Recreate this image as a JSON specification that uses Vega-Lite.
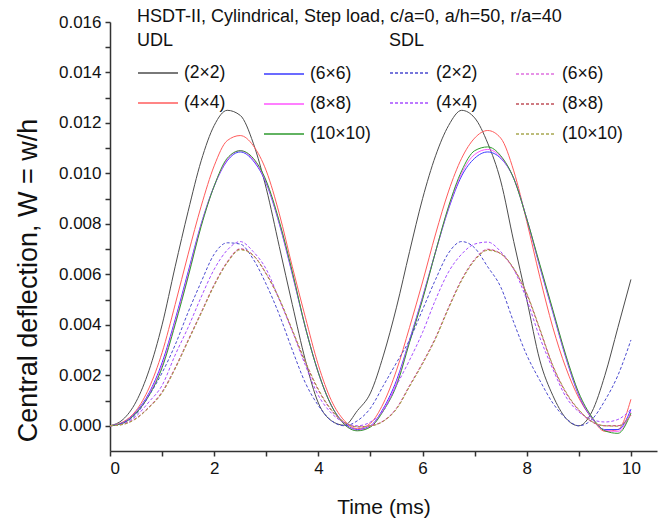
{
  "$schema": "https://vega.github.io/schema/vega-lite/v6.json",
  "width": 547,
  "height": 429,
  "autosize": {"type": "none"},
  "padding": {"left": 110, "top": 22, "right": 2, "bottom": 78},
  "background": "white",
  "title": {
    "text": "HSDT-II, Cylindrical, Step load, c/a=0, a/h=50, r/a=40",
    "anchor": "start",
    "frame": "group",
    "dx": 27,
    "dy": 17,
    "offset": -10,
    "baseline": "alphabetic",
    "font": "Liberation Sans",
    "fontSize": 18,
    "fontWeight": "normal",
    "color": "#111111"
  },
  "data": {
    "values": [
      {"s":"UDL","m":"(2×2)","t":0,"w":0},{"s":"UDL","m":"(2×2)","t":0.25,"w":0.00025},{"s":"UDL","m":"(2×2)","t":0.5,"w":0.00095},{"s":"UDL","m":"(2×2)","t":0.75,"w":0.0022},{"s":"UDL","m":"(2×2)","t":1,"w":0.004},{"s":"UDL","m":"(2×2)","t":1.25,"w":0.0063},{"s":"UDL","m":"(2×2)","t":1.5,"w":0.0085},{"s":"UDL","m":"(2×2)","t":1.75,"w":0.0105},{"s":"UDL","m":"(2×2)","t":2,"w":0.0119},{"s":"UDL","m":"(2×2)","t":2.25,"w":0.0125},{"s":"UDL","m":"(2×2)","t":2.5,"w":0.0123},{"s":"UDL","m":"(2×2)","t":2.75,"w":0.0112},{"s":"UDL","m":"(2×2)","t":3,"w":0.0094},{"s":"UDL","m":"(2×2)","t":3.25,"w":0.0071},{"s":"UDL","m":"(2×2)","t":3.5,"w":0.0048},{"s":"UDL","m":"(2×2)","t":3.75,"w":0.0026},{"s":"UDL","m":"(2×2)","t":4,"w":0.0009},{"s":"UDL","m":"(2×2)","t":4.25,"w":0.0002},{"s":"UDL","m":"(2×2)","t":4.5,"w":0.00002},{"s":"UDL","m":"(2×2)","t":4.75,"w":0.0006},{"s":"UDL","m":"(2×2)","t":5,"w":0.0013},{"s":"UDL","m":"(2×2)","t":5.25,"w":0.0028},{"s":"UDL","m":"(2×2)","t":5.5,"w":0.0047},{"s":"UDL","m":"(2×2)","t":5.75,"w":0.0069},{"s":"UDL","m":"(2×2)","t":6,"w":0.009},{"s":"UDL","m":"(2×2)","t":6.25,"w":0.0107},{"s":"UDL","m":"(2×2)","t":6.5,"w":0.0119},{"s":"UDL","m":"(2×2)","t":6.75,"w":0.0125},{"s":"UDL","m":"(2×2)","t":7,"w":0.0122},{"s":"UDL","m":"(2×2)","t":7.25,"w":0.0112},{"s":"UDL","m":"(2×2)","t":7.5,"w":0.0097},{"s":"UDL","m":"(2×2)","t":7.75,"w":0.0073},{"s":"UDL","m":"(2×2)","t":8,"w":0.005},{"s":"UDL","m":"(2×2)","t":8.25,"w":0.0026},{"s":"UDL","m":"(2×2)","t":8.5,"w":0.0012},{"s":"UDL","m":"(2×2)","t":8.75,"w":0.0003},{"s":"UDL","m":"(2×2)","t":9,"w":0},{"s":"UDL","m":"(2×2)","t":9.25,"w":0.00055},{"s":"UDL","m":"(2×2)","t":9.5,"w":0.002},{"s":"UDL","m":"(2×2)","t":9.75,"w":0.0039},{"s":"UDL","m":"(2×2)","t":10,"w":0.0058},
      {"s":"UDL","m":"(4×4)","t":0,"w":0},{"s":"UDL","m":"(4×4)","t":0.25,"w":0.00015},{"s":"UDL","m":"(4×4)","t":0.5,"w":0.0006},{"s":"UDL","m":"(4×4)","t":0.75,"w":0.0015},{"s":"UDL","m":"(4×4)","t":1,"w":0.0029},{"s":"UDL","m":"(4×4)","t":1.25,"w":0.0048},{"s":"UDL","m":"(4×4)","t":1.5,"w":0.0068},{"s":"UDL","m":"(4×4)","t":1.75,"w":0.0087},{"s":"UDL","m":"(4×4)","t":2,"w":0.0103},{"s":"UDL","m":"(4×4)","t":2.25,"w":0.0113},{"s":"UDL","m":"(4×4)","t":2.5,"w":0.0115},{"s":"UDL","m":"(4×4)","t":2.75,"w":0.0111},{"s":"UDL","m":"(4×4)","t":3,"w":0.0101},{"s":"UDL","m":"(4×4)","t":3.25,"w":0.0084},{"s":"UDL","m":"(4×4)","t":3.5,"w":0.0063},{"s":"UDL","m":"(4×4)","t":3.75,"w":0.0043},{"s":"UDL","m":"(4×4)","t":4,"w":0.0024},{"s":"UDL","m":"(4×4)","t":4.25,"w":0.001},{"s":"UDL","m":"(4×4)","t":4.5,"w":0.0002},{"s":"UDL","m":"(4×4)","t":4.75,"w":-0.00012},{"s":"UDL","m":"(4×4)","t":5,"w":0.0001},{"s":"UDL","m":"(4×4)","t":5.25,"w":0.0009},{"s":"UDL","m":"(4×4)","t":5.5,"w":0.0022},{"s":"UDL","m":"(4×4)","t":5.75,"w":0.0039},{"s":"UDL","m":"(4×4)","t":6,"w":0.0057},{"s":"UDL","m":"(4×4)","t":6.25,"w":0.0076},{"s":"UDL","m":"(4×4)","t":6.5,"w":0.0093},{"s":"UDL","m":"(4×4)","t":6.75,"w":0.0106},{"s":"UDL","m":"(4×4)","t":7,"w":0.0114},{"s":"UDL","m":"(4×4)","t":7.25,"w":0.0117},{"s":"UDL","m":"(4×4)","t":7.5,"w":0.0114},{"s":"UDL","m":"(4×4)","t":7.75,"w":0.0101},{"s":"UDL","m":"(4×4)","t":8,"w":0.0081},{"s":"UDL","m":"(4×4)","t":8.25,"w":0.0059},{"s":"UDL","m":"(4×4)","t":8.5,"w":0.0039},{"s":"UDL","m":"(4×4)","t":8.75,"w":0.0023},{"s":"UDL","m":"(4×4)","t":9,"w":0.0011},{"s":"UDL","m":"(4×4)","t":9.25,"w":0.0003},{"s":"UDL","m":"(4×4)","t":9.5,"w":-0.00022},{"s":"UDL","m":"(4×4)","t":9.75,"w":-0.00015},{"s":"UDL","m":"(4×4)","t":10,"w":0.00105},
      {"s":"UDL","m":"(6×6)","t":0,"w":0},{"s":"UDL","m":"(6×6)","t":0.25,"w":0.00012},{"s":"UDL","m":"(6×6)","t":0.5,"w":0.00055},{"s":"UDL","m":"(6×6)","t":0.75,"w":0.0013},{"s":"UDL","m":"(6×6)","t":1,"w":0.0025},{"s":"UDL","m":"(6×6)","t":1.25,"w":0.0042},{"s":"UDL","m":"(6×6)","t":1.5,"w":0.0061},{"s":"UDL","m":"(6×6)","t":1.75,"w":0.008},{"s":"UDL","m":"(6×6)","t":2,"w":0.0095},{"s":"UDL","m":"(6×6)","t":2.25,"w":0.0105},{"s":"UDL","m":"(6×6)","t":2.5,"w":0.01085},{"s":"UDL","m":"(6×6)","t":2.75,"w":0.0105},{"s":"UDL","m":"(6×6)","t":3,"w":0.0096},{"s":"UDL","m":"(6×6)","t":3.25,"w":0.008},{"s":"UDL","m":"(6×6)","t":3.5,"w":0.006},{"s":"UDL","m":"(6×6)","t":3.75,"w":0.0039},{"s":"UDL","m":"(6×6)","t":4,"w":0.0021},{"s":"UDL","m":"(6×6)","t":4.25,"w":0.0008},{"s":"UDL","m":"(6×6)","t":4.5,"w":0.0001},{"s":"UDL","m":"(6×6)","t":4.75,"w":-0.00015},{"s":"UDL","m":"(6×6)","t":5,"w":0},{"s":"UDL","m":"(6×6)","t":5.25,"w":0.0007},{"s":"UDL","m":"(6×6)","t":5.5,"w":0.0018},{"s":"UDL","m":"(6×6)","t":5.75,"w":0.0034},{"s":"UDL","m":"(6×6)","t":6,"w":0.0051},{"s":"UDL","m":"(6×6)","t":6.25,"w":0.0069},{"s":"UDL","m":"(6×6)","t":6.5,"w":0.0086},{"s":"UDL","m":"(6×6)","t":6.75,"w":0.0099},{"s":"UDL","m":"(6×6)","t":7,"w":0.0106},{"s":"UDL","m":"(6×6)","t":7.25,"w":0.01085},{"s":"UDL","m":"(6×6)","t":7.5,"w":0.0106},{"s":"UDL","m":"(6×6)","t":7.75,"w":0.0098},{"s":"UDL","m":"(6×6)","t":8,"w":0.0082},{"s":"UDL","m":"(6×6)","t":8.25,"w":0.0063},{"s":"UDL","m":"(6×6)","t":8.5,"w":0.0045},{"s":"UDL","m":"(6×6)","t":8.75,"w":0.0027},{"s":"UDL","m":"(6×6)","t":9,"w":0.0012},{"s":"UDL","m":"(6×6)","t":9.25,"w":0.0003},{"s":"UDL","m":"(6×6)","t":9.5,"w":-0.00015},{"s":"UDL","m":"(6×6)","t":9.75,"w":-0.00015},{"s":"UDL","m":"(6×6)","t":10,"w":0.00065},
      {"s":"UDL","m":"(8×8)","t":0,"w":0},{"s":"UDL","m":"(8×8)","t":0.25,"w":0.00011},{"s":"UDL","m":"(8×8)","t":0.5,"w":0.00052},{"s":"UDL","m":"(8×8)","t":0.75,"w":0.00125},{"s":"UDL","m":"(8×8)","t":1,"w":0.0024},{"s":"UDL","m":"(8×8)","t":1.25,"w":0.0041},{"s":"UDL","m":"(8×8)","t":1.5,"w":0.006},{"s":"UDL","m":"(8×8)","t":1.75,"w":0.00795},{"s":"UDL","m":"(8×8)","t":2,"w":0.0095},{"s":"UDL","m":"(8×8)","t":2.25,"w":0.01055},{"s":"UDL","m":"(8×8)","t":2.5,"w":0.0109},{"s":"UDL","m":"(8×8)","t":2.75,"w":0.01055},{"s":"UDL","m":"(8×8)","t":3,"w":0.00965},{"s":"UDL","m":"(8×8)","t":3.25,"w":0.00805},{"s":"UDL","m":"(8×8)","t":3.5,"w":0.00605},{"s":"UDL","m":"(8×8)","t":3.75,"w":0.0039},{"s":"UDL","m":"(8×8)","t":4,"w":0.0021},{"s":"UDL","m":"(8×8)","t":4.25,"w":0.0008},{"s":"UDL","m":"(8×8)","t":4.5,"w":0.00007},{"s":"UDL","m":"(8×8)","t":4.75,"w":-0.00018},{"s":"UDL","m":"(8×8)","t":5,"w":-0.00002},{"s":"UDL","m":"(8×8)","t":5.25,"w":0.00065},{"s":"UDL","m":"(8×8)","t":5.5,"w":0.0017},{"s":"UDL","m":"(8×8)","t":5.75,"w":0.00335},{"s":"UDL","m":"(8×8)","t":6,"w":0.00505},{"s":"UDL","m":"(8×8)","t":6.25,"w":0.0069},{"s":"UDL","m":"(8×8)","t":6.5,"w":0.00865},{"s":"UDL","m":"(8×8)","t":6.75,"w":0.01},{"s":"UDL","m":"(8×8)","t":7,"w":0.01075},{"s":"UDL","m":"(8×8)","t":7.25,"w":0.01095},{"s":"UDL","m":"(8×8)","t":7.5,"w":0.01065},{"s":"UDL","m":"(8×8)","t":7.75,"w":0.0098},{"s":"UDL","m":"(8×8)","t":8,"w":0.0082},{"s":"UDL","m":"(8×8)","t":8.25,"w":0.00635},{"s":"UDL","m":"(8×8)","t":8.5,"w":0.00455},{"s":"UDL","m":"(8×8)","t":8.75,"w":0.00275},{"s":"UDL","m":"(8×8)","t":9,"w":0.00125},{"s":"UDL","m":"(8×8)","t":9.25,"w":0.00032},{"s":"UDL","m":"(8×8)","t":9.5,"w":-0.00018},{"s":"UDL","m":"(8×8)","t":9.75,"w":-0.00022},{"s":"UDL","m":"(8×8)","t":10,"w":0.00055},
      {"s":"UDL","m":"(10×10)","t":0,"w":0},{"s":"UDL","m":"(10×10)","t":0.25,"w":0.0001},{"s":"UDL","m":"(10×10)","t":0.5,"w":0.0005},{"s":"UDL","m":"(10×10)","t":0.75,"w":0.0012},{"s":"UDL","m":"(10×10)","t":1,"w":0.0023},{"s":"UDL","m":"(10×10)","t":1.25,"w":0.004},{"s":"UDL","m":"(10×10)","t":1.5,"w":0.0059},{"s":"UDL","m":"(10×10)","t":1.75,"w":0.0079},{"s":"UDL","m":"(10×10)","t":2,"w":0.0095},{"s":"UDL","m":"(10×10)","t":2.25,"w":0.0106},{"s":"UDL","m":"(10×10)","t":2.5,"w":0.0109},{"s":"UDL","m":"(10×10)","t":2.75,"w":0.0106},{"s":"UDL","m":"(10×10)","t":3,"w":0.0097},{"s":"UDL","m":"(10×10)","t":3.25,"w":0.0081},{"s":"UDL","m":"(10×10)","t":3.5,"w":0.0061},{"s":"UDL","m":"(10×10)","t":3.75,"w":0.0039},{"s":"UDL","m":"(10×10)","t":4,"w":0.0021},{"s":"UDL","m":"(10×10)","t":4.25,"w":0.0008},{"s":"UDL","m":"(10×10)","t":4.5,"w":0.00005},{"s":"UDL","m":"(10×10)","t":4.75,"w":-0.0002},{"s":"UDL","m":"(10×10)","t":5,"w":-0.00005},{"s":"UDL","m":"(10×10)","t":5.25,"w":0.0006},{"s":"UDL","m":"(10×10)","t":5.5,"w":0.0016},{"s":"UDL","m":"(10×10)","t":5.75,"w":0.0033},{"s":"UDL","m":"(10×10)","t":6,"w":0.005},{"s":"UDL","m":"(10×10)","t":6.25,"w":0.0069},{"s":"UDL","m":"(10×10)","t":6.5,"w":0.0087},{"s":"UDL","m":"(10×10)","t":6.75,"w":0.0101},{"s":"UDL","m":"(10×10)","t":7,"w":0.0109},{"s":"UDL","m":"(10×10)","t":7.25,"w":0.01105},{"s":"UDL","m":"(10×10)","t":7.5,"w":0.0107},{"s":"UDL","m":"(10×10)","t":7.75,"w":0.0098},{"s":"UDL","m":"(10×10)","t":8,"w":0.0082},{"s":"UDL","m":"(10×10)","t":8.25,"w":0.0064},{"s":"UDL","m":"(10×10)","t":8.5,"w":0.0046},{"s":"UDL","m":"(10×10)","t":8.75,"w":0.0028},{"s":"UDL","m":"(10×10)","t":9,"w":0.0013},{"s":"UDL","m":"(10×10)","t":9.25,"w":0.00035},{"s":"UDL","m":"(10×10)","t":9.5,"w":-0.0002},{"s":"UDL","m":"(10×10)","t":9.75,"w":-0.0003},{"s":"UDL","m":"(10×10)","t":10,"w":0.0005},
      {"s":"SDL","m":"(2×2)","t":0,"w":0},{"s":"SDL","m":"(2×2)","t":0.25,"w":0.00012},{"s":"SDL","m":"(2×2)","t":0.5,"w":0.00045},{"s":"SDL","m":"(2×2)","t":0.75,"w":0.0012},{"s":"SDL","m":"(2×2)","t":1,"w":0.0021},{"s":"SDL","m":"(2×2)","t":1.25,"w":0.0032},{"s":"SDL","m":"(2×2)","t":1.5,"w":0.0045},{"s":"SDL","m":"(2×2)","t":1.75,"w":0.0057},{"s":"SDL","m":"(2×2)","t":2,"w":0.0068},{"s":"SDL","m":"(2×2)","t":2.25,"w":0.00725},{"s":"SDL","m":"(2×2)","t":2.5,"w":0.0072},{"s":"SDL","m":"(2×2)","t":2.75,"w":0.0066},{"s":"SDL","m":"(2×2)","t":3,"w":0.0056},{"s":"SDL","m":"(2×2)","t":3.25,"w":0.0044},{"s":"SDL","m":"(2×2)","t":3.5,"w":0.003},{"s":"SDL","m":"(2×2)","t":3.75,"w":0.0017},{"s":"SDL","m":"(2×2)","t":4,"w":0.0008},{"s":"SDL","m":"(2×2)","t":4.25,"w":0.0002},{"s":"SDL","m":"(2×2)","t":4.5,"w":0},{"s":"SDL","m":"(2×2)","t":4.75,"w":0.0002},{"s":"SDL","m":"(2×2)","t":5,"w":0.0007},{"s":"SDL","m":"(2×2)","t":5.25,"w":0.0016},{"s":"SDL","m":"(2×2)","t":5.5,"w":0.0025},{"s":"SDL","m":"(2×2)","t":5.75,"w":0.0034},{"s":"SDL","m":"(2×2)","t":6,"w":0.0046},{"s":"SDL","m":"(2×2)","t":6.25,"w":0.0058},{"s":"SDL","m":"(2×2)","t":6.5,"w":0.00685},{"s":"SDL","m":"(2×2)","t":6.75,"w":0.0073},{"s":"SDL","m":"(2×2)","t":7,"w":0.00705},{"s":"SDL","m":"(2×2)","t":7.25,"w":0.0063},{"s":"SDL","m":"(2×2)","t":7.5,"w":0.0055},{"s":"SDL","m":"(2×2)","t":7.75,"w":0.0041},{"s":"SDL","m":"(2×2)","t":8,"w":0.0028},{"s":"SDL","m":"(2×2)","t":8.25,"w":0.0018},{"s":"SDL","m":"(2×2)","t":8.5,"w":0.0009},{"s":"SDL","m":"(2×2)","t":8.75,"w":0.0003},{"s":"SDL","m":"(2×2)","t":9,"w":0},{"s":"SDL","m":"(2×2)","t":9.25,"w":0.00025},{"s":"SDL","m":"(2×2)","t":9.5,"w":0.001},{"s":"SDL","m":"(2×2)","t":9.75,"w":0.002},{"s":"SDL","m":"(2×2)","t":10,"w":0.0034},
      {"s":"SDL","m":"(4×4)","t":0,"w":0},{"s":"SDL","m":"(4×4)","t":0.25,"w":0.00008},{"s":"SDL","m":"(4×4)","t":0.5,"w":0.00038},{"s":"SDL","m":"(4×4)","t":0.75,"w":0.00095},{"s":"SDL","m":"(4×4)","t":1,"w":0.0016},{"s":"SDL","m":"(4×4)","t":1.25,"w":0.0028},{"s":"SDL","m":"(4×4)","t":1.5,"w":0.0039},{"s":"SDL","m":"(4×4)","t":1.75,"w":0.0051},{"s":"SDL","m":"(4×4)","t":2,"w":0.0062},{"s":"SDL","m":"(4×4)","t":2.25,"w":0.00696},{"s":"SDL","m":"(4×4)","t":2.5,"w":0.0073},{"s":"SDL","m":"(4×4)","t":2.75,"w":0.0069},{"s":"SDL","m":"(4×4)","t":3,"w":0.0062},{"s":"SDL","m":"(4×4)","t":3.25,"w":0.005},{"s":"SDL","m":"(4×4)","t":3.5,"w":0.00375},{"s":"SDL","m":"(4×4)","t":3.75,"w":0.0024},{"s":"SDL","m":"(4×4)","t":4,"w":0.0012},{"s":"SDL","m":"(4×4)","t":4.25,"w":0.0005},{"s":"SDL","m":"(4×4)","t":4.5,"w":0.00012},{"s":"SDL","m":"(4×4)","t":4.75,"w":0},{"s":"SDL","m":"(4×4)","t":5,"w":0.00015},{"s":"SDL","m":"(4×4)","t":5.25,"w":0.0006},{"s":"SDL","m":"(4×4)","t":5.5,"w":0.0016},{"s":"SDL","m":"(4×4)","t":5.75,"w":0.0026},{"s":"SDL","m":"(4×4)","t":6,"w":0.0037},{"s":"SDL","m":"(4×4)","t":6.25,"w":0.005},{"s":"SDL","m":"(4×4)","t":6.5,"w":0.0061},{"s":"SDL","m":"(4×4)","t":6.75,"w":0.0068},{"s":"SDL","m":"(4×4)","t":7,"w":0.0072},{"s":"SDL","m":"(4×4)","t":7.25,"w":0.00728},{"s":"SDL","m":"(4×4)","t":7.5,"w":0.0069},{"s":"SDL","m":"(4×4)","t":7.75,"w":0.0062},{"s":"SDL","m":"(4×4)","t":8,"w":0.005},{"s":"SDL","m":"(4×4)","t":8.25,"w":0.0035},{"s":"SDL","m":"(4×4)","t":8.5,"w":0.00225},{"s":"SDL","m":"(4×4)","t":8.75,"w":0.00115},{"s":"SDL","m":"(4×4)","t":9,"w":0.00055},{"s":"SDL","m":"(4×4)","t":9.25,"w":0.00025},{"s":"SDL","m":"(4×4)","t":9.5,"w":0.00015},{"s":"SDL","m":"(4×4)","t":9.75,"w":0.00025},{"s":"SDL","m":"(4×4)","t":10,"w":0.00065},
      {"s":"SDL","m":"(6×6)","t":0,"w":0},{"s":"SDL","m":"(6×6)","t":0.25,"w":0.00006},{"s":"SDL","m":"(6×6)","t":0.5,"w":0.0003},{"s":"SDL","m":"(6×6)","t":0.75,"w":0.00075},{"s":"SDL","m":"(6×6)","t":1,"w":0.00135},{"s":"SDL","m":"(6×6)","t":1.25,"w":0.0023},{"s":"SDL","m":"(6×6)","t":1.5,"w":0.0034},{"s":"SDL","m":"(6×6)","t":1.75,"w":0.0045},{"s":"SDL","m":"(6×6)","t":2,"w":0.0056},{"s":"SDL","m":"(6×6)","t":2.25,"w":0.0065},{"s":"SDL","m":"(6×6)","t":2.5,"w":0.00702},{"s":"SDL","m":"(6×6)","t":2.75,"w":0.00675},{"s":"SDL","m":"(6×6)","t":3,"w":0.006},{"s":"SDL","m":"(6×6)","t":3.25,"w":0.005},{"s":"SDL","m":"(6×6)","t":3.5,"w":0.00375},{"s":"SDL","m":"(6×6)","t":3.75,"w":0.0025},{"s":"SDL","m":"(6×6)","t":4,"w":0.0014},{"s":"SDL","m":"(6×6)","t":4.25,"w":0.0006},{"s":"SDL","m":"(6×6)","t":4.5,"w":0.00012},{"s":"SDL","m":"(6×6)","t":4.75,"w":-0.00005},{"s":"SDL","m":"(6×6)","t":5,"w":0},{"s":"SDL","m":"(6×6)","t":5.25,"w":0.0002},{"s":"SDL","m":"(6×6)","t":5.5,"w":0.0007},{"s":"SDL","m":"(6×6)","t":5.75,"w":0.0016},{"s":"SDL","m":"(6×6)","t":6,"w":0.0025},{"s":"SDL","m":"(6×6)","t":6.25,"w":0.0035},{"s":"SDL","m":"(6×6)","t":6.5,"w":0.0047},{"s":"SDL","m":"(6×6)","t":6.75,"w":0.0058},{"s":"SDL","m":"(6×6)","t":7,"w":0.0066},{"s":"SDL","m":"(6×6)","t":7.25,"w":0.007},{"s":"SDL","m":"(6×6)","t":7.5,"w":0.00682},{"s":"SDL","m":"(6×6)","t":7.75,"w":0.0062},{"s":"SDL","m":"(6×6)","t":8,"w":0.0052},{"s":"SDL","m":"(6×6)","t":8.25,"w":0.0038},{"s":"SDL","m":"(6×6)","t":8.5,"w":0.00235},{"s":"SDL","m":"(6×6)","t":8.75,"w":0.0013},{"s":"SDL","m":"(6×6)","t":9,"w":0.0006},{"s":"SDL","m":"(6×6)","t":9.25,"w":0.00015},{"s":"SDL","m":"(6×6)","t":9.5,"w":0},{"s":"SDL","m":"(6×6)","t":9.75,"w":0},{"s":"SDL","m":"(6×6)","t":10,"w":0.00045},
      {"s":"SDL","m":"(8×8)","t":0,"w":0},{"s":"SDL","m":"(8×8)","t":0.25,"w":0.00006},{"s":"SDL","m":"(8×8)","t":0.5,"w":0.00029},{"s":"SDL","m":"(8×8)","t":0.75,"w":0.00074},{"s":"SDL","m":"(8×8)","t":1,"w":0.00133},{"s":"SDL","m":"(8×8)","t":1.25,"w":0.00228},{"s":"SDL","m":"(8×8)","t":1.5,"w":0.00338},{"s":"SDL","m":"(8×8)","t":1.75,"w":0.00448},{"s":"SDL","m":"(8×8)","t":2,"w":0.00558},{"s":"SDL","m":"(8×8)","t":2.25,"w":0.00648},{"s":"SDL","m":"(8×8)","t":2.5,"w":0.007},{"s":"SDL","m":"(8×8)","t":2.75,"w":0.00676},{"s":"SDL","m":"(8×8)","t":3,"w":0.00602},{"s":"SDL","m":"(8×8)","t":3.25,"w":0.00502},{"s":"SDL","m":"(8×8)","t":3.5,"w":0.00378},{"s":"SDL","m":"(8×8)","t":3.75,"w":0.00252},{"s":"SDL","m":"(8×8)","t":4,"w":0.00142},{"s":"SDL","m":"(8×8)","t":4.25,"w":0.00062},{"s":"SDL","m":"(8×8)","t":4.5,"w":0.00013},{"s":"SDL","m":"(8×8)","t":4.75,"w":-0.00004},{"s":"SDL","m":"(8×8)","t":5,"w":0},{"s":"SDL","m":"(8×8)","t":5.25,"w":0.00019},{"s":"SDL","m":"(8×8)","t":5.5,"w":0.00068},{"s":"SDL","m":"(8×8)","t":5.75,"w":0.00158},{"s":"SDL","m":"(8×8)","t":6,"w":0.00248},{"s":"SDL","m":"(8×8)","t":6.25,"w":0.00348},{"s":"SDL","m":"(8×8)","t":6.5,"w":0.00468},{"s":"SDL","m":"(8×8)","t":6.75,"w":0.00578},{"s":"SDL","m":"(8×8)","t":7,"w":0.00658},{"s":"SDL","m":"(8×8)","t":7.25,"w":0.00698},{"s":"SDL","m":"(8×8)","t":7.5,"w":0.00682},{"s":"SDL","m":"(8×8)","t":7.75,"w":0.00622},{"s":"SDL","m":"(8×8)","t":8,"w":0.00522},{"s":"SDL","m":"(8×8)","t":8.25,"w":0.00382},{"s":"SDL","m":"(8×8)","t":8.5,"w":0.00238},{"s":"SDL","m":"(8×8)","t":8.75,"w":0.00132},{"s":"SDL","m":"(8×8)","t":9,"w":0.00062},{"s":"SDL","m":"(8×8)","t":9.25,"w":0.00016},{"s":"SDL","m":"(8×8)","t":9.5,"w":0},{"s":"SDL","m":"(8×8)","t":9.75,"w":0},{"s":"SDL","m":"(8×8)","t":10,"w":0.00042},
      {"s":"SDL","m":"(10×10)","t":0,"w":0},{"s":"SDL","m":"(10×10)","t":0.25,"w":0.00005},{"s":"SDL","m":"(10×10)","t":0.5,"w":0.00028},{"s":"SDL","m":"(10×10)","t":0.75,"w":0.00072},{"s":"SDL","m":"(10×10)","t":1,"w":0.0013},{"s":"SDL","m":"(10×10)","t":1.25,"w":0.00225},{"s":"SDL","m":"(10×10)","t":1.5,"w":0.00335},{"s":"SDL","m":"(10×10)","t":1.75,"w":0.00445},{"s":"SDL","m":"(10×10)","t":2,"w":0.00555},{"s":"SDL","m":"(10×10)","t":2.25,"w":0.00645},{"s":"SDL","m":"(10×10)","t":2.5,"w":0.00697},{"s":"SDL","m":"(10×10)","t":2.75,"w":0.00675},{"s":"SDL","m":"(10×10)","t":3,"w":0.00602},{"s":"SDL","m":"(10×10)","t":3.25,"w":0.00504},{"s":"SDL","m":"(10×10)","t":3.5,"w":0.0038},{"s":"SDL","m":"(10×10)","t":3.75,"w":0.00255},{"s":"SDL","m":"(10×10)","t":4,"w":0.00145},{"s":"SDL","m":"(10×10)","t":4.25,"w":0.00063},{"s":"SDL","m":"(10×10)","t":4.5,"w":0.00014},{"s":"SDL","m":"(10×10)","t":4.75,"w":-0.00004},{"s":"SDL","m":"(10×10)","t":5,"w":-0.00001},{"s":"SDL","m":"(10×10)","t":5.25,"w":0.00018},{"s":"SDL","m":"(10×10)","t":5.5,"w":0.00066},{"s":"SDL","m":"(10×10)","t":5.75,"w":0.00155},{"s":"SDL","m":"(10×10)","t":6,"w":0.00245},{"s":"SDL","m":"(10×10)","t":6.25,"w":0.00345},{"s":"SDL","m":"(10×10)","t":6.5,"w":0.00465},{"s":"SDL","m":"(10×10)","t":6.75,"w":0.00575},{"s":"SDL","m":"(10×10)","t":7,"w":0.00655},{"s":"SDL","m":"(10×10)","t":7.25,"w":0.00695},{"s":"SDL","m":"(10×10)","t":7.5,"w":0.00682},{"s":"SDL","m":"(10×10)","t":7.75,"w":0.00624},{"s":"SDL","m":"(10×10)","t":8,"w":0.00525},{"s":"SDL","m":"(10×10)","t":8.25,"w":0.00385},{"s":"SDL","m":"(10×10)","t":8.5,"w":0.0024},{"s":"SDL","m":"(10×10)","t":8.75,"w":0.00135},{"s":"SDL","m":"(10×10)","t":9,"w":0.00064},{"s":"SDL","m":"(10×10)","t":9.25,"w":0.00017},{"s":"SDL","m":"(10×10)","t":9.5,"w":0},{"s":"SDL","m":"(10×10)","t":9.75,"w":-0.00002},{"s":"SDL","m":"(10×10)","t":10,"w":0.0004}
    ]
  },
  "encoding": {
    "x": {
      "field": "t", "type": "quantitative",
      "scale": {"domain": [0, 10.5], "nice": false, "zero": false},
      "axis": {
        "title": "Time (ms)",
        "values": [0,1,2,3,4,5,6,7,8,9,10],
        "labelExpr": "datum.value % 2 == 0 ? format(datum.value, 'd') : ''",
        "labelOverlap": false,
        "labelFontSize": 17,
        "titleFontSize": 21,
        "labelPadding": 4,
        "titlePadding": 20
      }
    },
    "y": {
      "field": "w", "type": "quantitative",
      "scale": {"domain": [-0.001, 0.016], "nice": false, "zero": false},
      "axis": {
        "title": "Central deflection, W = w/h",
        "values": [0,0.001,0.002,0.003,0.004,0.005,0.006,0.007,0.008,0.009,0.01,0.011,0.012,0.013,0.014,0.015,0.016],
        "labelExpr": "round(datum.value*1000) % 2 == 0 ? format(datum.value, '.3f') : ''",
        "labelOverlap": false,
        "labelFontSize": 17,
        "titleFontSize": 27,
        "titleX": -68,
        "titleY": 258,
        "titleAngle": 270,
        "titleBaseline": "bottom",
        "titleAlign": "center",
        "labelPadding": 4
      }
    }
  },
  "layer": [
    {
      "transform": [{"filter": {"and": [{"field": "s", "equal": "UDL"}, {"field": "m", "oneOf": ["(2×2)", "(4×4)"]}]}}],
      "mark": {"type": "line", "strokeWidth": 1, "interpolate": "monotone"},
      "encoding": {
        "color": {
          "field": "m", "type": "nominal",
          "scale": {"domain": ["(2×2)", "(4×4)"], "range": ["#4d4d4d", "#ff5c5c"]},
          "legend": {"title": "UDL", "orient": "none", "legendX": 27, "legendY": 10}
        }
      }
    },
    {
      "transform": [{"filter": {"and": [{"field": "s", "equal": "UDL"}, {"field": "m", "oneOf": ["(6×6)", "(8×8)", "(10×10)"]}]}}],
      "mark": {"type": "line", "strokeWidth": 1, "interpolate": "monotone"},
      "encoding": {
        "color": {
          "field": "m", "type": "nominal",
          "scale": {"domain": ["(6×6)", "(8×8)", "(10×10)"], "range": ["#3a3aff", "#ff55ff", "#2e9a2e"]},
          "legend": {"title": null, "orient": "none", "legendX": 153, "legendY": 31}
        }
      }
    },
    {
      "transform": [{"filter": {"and": [{"field": "s", "equal": "SDL"}, {"field": "m", "oneOf": ["(2×2)", "(4×4)"]}]}}],
      "mark": {"type": "line", "strokeWidth": 1, "strokeDash": [3, 2], "interpolate": "monotone"},
      "encoding": {
        "color": {
          "field": "m", "type": "nominal",
          "scale": {"domain": ["(2×2)", "(4×4)"], "range": ["#4a4ad0", "#a64dff"]},
          "legend": {"title": "SDL", "orient": "none", "legendX": 279, "legendY": 10, "symbolDash": [3, 2]}
        }
      }
    },
    {
      "transform": [{"filter": {"and": [{"field": "s", "equal": "SDL"}, {"field": "m", "oneOf": ["(6×6)", "(8×8)", "(10×10)"]}]}}],
      "mark": {"type": "line", "strokeWidth": 1, "strokeDash": [3, 2], "interpolate": "monotone"},
      "encoding": {
        "color": {
          "field": "m", "type": "nominal",
          "scale": {"domain": ["(6×6)", "(8×8)", "(10×10)"], "range": ["#e070e0", "#c0505a", "#a8a850"]},
          "legend": {"title": null, "orient": "none", "legendX": 405, "legendY": 31, "symbolDash": [3, 2]}
        }
      }
    }
  ],
  "resolve": {"scale": {"color": "independent"}},
  "config": {
    "font": "Liberation Sans",
    "view": {"stroke": null},
    "axis": {
      "grid": false,
      "domainColor": "#333333",
      "domainWidth": 1.5,
      "tickColor": "#333333",
      "tickWidth": 1.5,
      "tickSize": 5,
      "labelColor": "#111111",
      "titleColor": "#111111",
      "labelFont": "Liberation Sans",
      "titleFont": "Liberation Sans",
      "titleFontWeight": "normal"
    },
    "legend": {
      "padding": 0,
      "labelFont": "Liberation Sans",
      "labelFontSize": 17.5,
      "labelColor": "#111111",
      "titleFont": "Liberation Sans",
      "titleFontSize": 18,
      "titleFontWeight": "normal",
      "titleColor": "#111111",
      "titlePadding": 2,
      "symbolType": "stroke",
      "symbolSize": 1600,
      "symbolStrokeWidth": 1.5,
      "labelOffset": 5,
      "rowPadding": -2.5
    }
  }
}
